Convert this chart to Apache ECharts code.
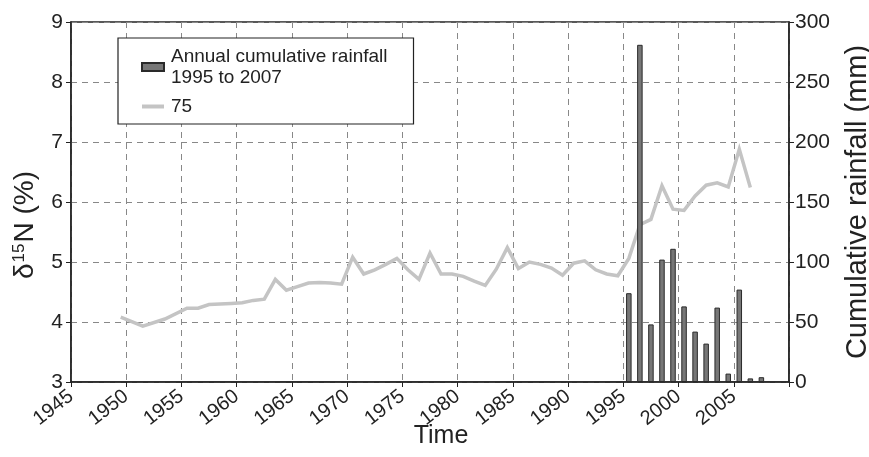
<!DOCTYPE html>
<html>
<head>
<meta charset="utf-8">
<script src="https://cdn.jsdelivr.net/npm/echarts@6/dist/echarts.min.js"></script>
<style>
  html, body { margin: 0; padding: 0; background: #fff; }
  #chart { width: 869px; height: 457px; }
</style>
</head>
<body>
<div id="chart"></div>
<script>
// rainfall bars (right axis), one per year, drawn mid-year
var rainYears = [1995.5, 1996.5, 1997.5, 1998.5, 1999.5, 2000.5, 2001.5, 2002.5, 2003.5, 2004.5, 2005.5, 2006.5, 2007.5];
var rainfall = [74, 281, 48, 102, 111, 63, 42, 32, 62, 7, 77, 3, 4];

// d15N line (left axis)
var lineYears = [1949.5, 1951.5, 1953.5, 1955.5, 1956.5, 1957.5, 1959.5, 1960.5, 1961.5, 1962.5,
    1963.5, 1964.5, 1965.5, 1966.5, 1967.5, 1968.5, 1969.5, 1970.5, 1971.5, 1972.5,
    1973.5, 1974.5, 1975.5, 1976.5, 1977.5, 1978.5, 1979.5, 1980.5, 1981.5, 1982.5,
    1983.5, 1984.5, 1985.5, 1986.5, 1987.5, 1988.5, 1989.5, 1990.5, 1991.5, 1992.5,
    1993.5, 1994.5, 1995.5, 1996.5, 1997.5, 1998.5, 1999.5, 2000.5, 2001.5, 2002.5,
    2003.5, 2004.5, 2005.5, 2006.5];
var d15N = [4.08, 3.93, 4.05, 4.23, 4.23, 4.29, 4.31, 4.32, 4.36, 4.38,
    4.71, 4.53, 4.59, 4.65, 4.66, 4.65, 4.63, 5.08, 4.80, 4.87,
    4.96, 5.06, 4.87, 4.71, 5.15, 4.80, 4.80, 4.76, 4.68, 4.61,
    4.88, 5.24, 4.89, 5.00, 4.96, 4.90, 4.78, 4.98, 5.02, 4.87,
    4.80, 4.77, 5.06, 5.62, 5.71, 6.27, 5.88, 5.86, 6.10, 6.28,
    6.32, 6.25, 6.88, 6.24];

var xTicks = [1945, 1950, 1955, 1960, 1965, 1970, 1975, 1980, 1985, 1990, 1995, 2000, 2005];

var barName = 'Annual cumulative rainfall 1995 to 2007';
var lineName = '75';

var font = 'Liberation Sans, Arial, sans-serif';
var ink = '#222';

function pairs(xs, ys) {
    var out = [];
    for (var i = 0; i < xs.length; i++) out.push([xs[i], ys[i]]);
    return out;
}

var chart = echarts.init(document.getElementById('chart'), null, { renderer: 'canvas' });

var dashed = { show: true, lineStyle: { color: '#888', width: 1, type: [6, 5] } };

var option = {
    backgroundColor: '#fff',
    animation: false,
    textStyle: { fontFamily: font },
    grid: {
        left: 71, right: 80, top: 22, bottom: 75,
        outerBoundsMode: 'none',
        containLabel: false,
        show: true, borderColor: ink, borderWidth: 1.5, backgroundColor: 'transparent'
    },
    legend: {
        orient: 'vertical',
        left: 118, top: 38,
        padding: [8, 26, 7, 22],
        itemGap: 8,
        itemWidth: 22, itemHeight: 8,
        backgroundColor: '#fff',
        borderColor: ink, borderWidth: 1.2,
        textStyle: { fontSize: 19, color: ink, lineHeight: 21, fontFamily: font, padding: [0, 0, 0, 2] },
        formatter: function (name) { return name.replace(' 1995', '\n1995'); },
        data: [
            { name: barName, icon: 'rect' },
            { name: lineName, itemStyle: { color: 'rgba(0,0,0,0)', borderWidth: 0 }, lineStyle: { width: 4, color: '#c4c4c4' } }
        ]
    },
    xAxis: {
        type: 'value',
        min: 1945, max: 2010, interval: 5,
        name: 'Time', nameLocation: 'middle', nameGap: 42, nameMoveOverlap: false,
        nameTextStyle: { fontSize: 25, color: ink, fontFamily: font, padding: [0, 0, 0, 22] },
        axisLine: { show: true, onZero: false, lineStyle: { color: ink, width: 1.5 } },
        axisTick: { show: true, length: 5, lineStyle: { color: ink } },
        axisLabel: {
            rotate: 38, fontSize: 20, color: ink, margin: 12,
            formatter: function (v) { return xTicks.indexOf(v) >= 0 ? String(v) : ''; }
        },
        splitLine: dashed
    },
    yAxis: [
        {
            type: 'value', min: 3, max: 9, interval: 1, position: 'left',
            name: '{d|δ}{s|15}{d|N (%)}', nameLocation: 'middle', nameGap: 32, nameRotate: 90,
            nameTextStyle: {
                color: ink, padding: [0, 46, 0, 0],
                rich: {
                    d: { fontSize: 28, color: ink, fontFamily: font },
                    s: { fontSize: 17, color: ink, fontFamily: font, verticalAlign: 'top', padding: [0, 1, 0, 1] }
                }
            },
            axisLine: { show: true, onZero: false, lineStyle: { color: ink, width: 1.5 } },
            axisTick: { show: true, length: 5, lineStyle: { color: ink } },
            axisLabel: { fontSize: 21, color: ink, margin: 8 },
            splitLine: dashed
        },
        {
            type: 'value', min: 0, max: 300, interval: 50, position: 'right',
            name: 'Cumulative rainfall (mm)', nameLocation: 'middle', nameGap: 54, nameRotate: 90,
            nameTextStyle: { fontSize: 29, color: ink, fontFamily: font },
            axisLine: { show: true, onZero: false, lineStyle: { color: ink, width: 1.5 } },
            axisTick: { show: true, length: 5, lineStyle: { color: ink } },
            axisLabel: { fontSize: 21, color: ink, margin: 6 },
            splitLine: { show: false }
        }
    ],
    series: [
        {
            name: lineName,
            type: 'line',
            yAxisIndex: 0,
            data: pairs(lineYears, d15N),
            symbol: 'none',
            lineStyle: { color: '#c4c4c4', width: 3.5, join: 'miter' },
            itemStyle: { color: '#c4c4c4' },
            z: 2
        },
        {
            name: barName,
            type: 'bar',
            yAxisIndex: 1,
            data: pairs(rainYears, rainfall),
            barWidth: 5.5,
            itemStyle: { color: '#777', borderColor: '#2a2a2a', borderWidth: 1 },
            z: 3
        }
    ]
};

chart.setOption(option);
</script>
</body>
</html>
